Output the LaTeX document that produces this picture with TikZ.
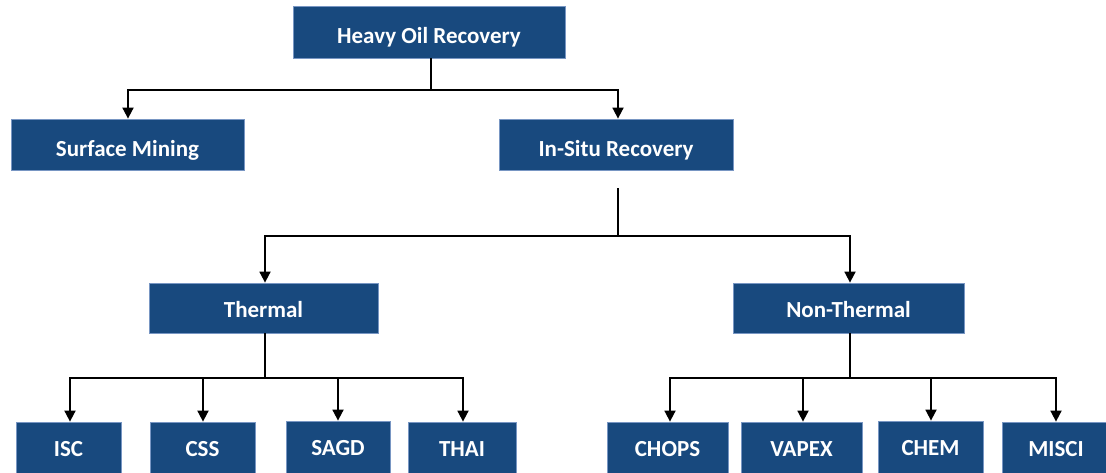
\documentclass[tikz,border=0pt]{standalone}
\usepackage{fontspec}
\setmainfont{Carlito}
\usetikzlibrary{arrows.meta}
\definecolor{boxblue}{RGB}{24,73,126}
\definecolor{boxedge}{RGB}{120,150,195}
\tikzset{
  box/.style={rectangle, fill=boxblue, draw=boxedge, line width=0.8pt, text=white,
    font=\fontsize{23}{26}\selectfont\bfseries, inner sep=0pt, anchor=center,
    text depth=0pt, text height=23.5pt},
  midbox/.style={box, text height=18.8pt},
  lowbox/.style={box, text height=17.8pt},
  conn/.style={line width=1.8pt, draw=black},
  arr/.style={conn, -{Triangle[width=11pt,length=11pt]}}
}
\begin{document}
\begin{tikzpicture}[x=1pt,y=-1pt]
\useasboundingbox (0,0) rectangle (1106,472);
% nodes
\node[box, minimum width=272pt, minimum height=52pt] (top) at (429,32) {Heavy Oil Recovery};
\node[box, minimum width=233pt, minimum height=51pt] (sm) at (127.5,144.5) {Surface Mining};
\node[box, minimum width=234pt, minimum height=51pt] (is) at (616,144.5) {In-Situ Recovery};
\node[midbox, minimum width=229pt, minimum height=50pt] (th) at (263.5,308) {Thermal};
\node[midbox, minimum width=231pt, minimum height=50pt] (nt) at (848.5,308) {Non-Thermal};
\node[lowbox, minimum width=105pt, minimum height=52pt] (isc) at (68.5,448) {ISC};
\node[lowbox, minimum width=105pt, minimum height=52pt] (css) at (202.5,448) {CSS};
\node[lowbox, minimum width=104pt, minimum height=52pt] (sagd) at (338,447) {SAGD};
\node[lowbox, minimum width=108pt, minimum height=52pt] (thai) at (462,448) {THAI};
\node[lowbox, minimum width=121pt, minimum height=52pt] (chops) at (667.5,448) {CHOPS};
\node[lowbox, minimum width=121pt, minimum height=52pt] (vapex) at (801.5,448) {VAPEX};
\node[lowbox, minimum width=105pt, minimum height=52pt] (chem) at (930.5,447) {CHEM};
\node[lowbox, minimum width=108pt, minimum height=52pt] (misci) at (1056,448) {MISCI};
% junctions
\coordinate (j1) at (431,90);
\coordinate (is0) at (618,188);
\coordinate (j2) at (618,236);
\coordinate (j3) at (265,378);
\coordinate (j4) at (850,378);
% connectors
\draw[conn] (top.south -| j1) -- (j1);
\draw[arr] (j1) -| ([xshift=0.5pt]sm.north);
\draw[arr] (j1) -| ([xshift=2pt]is.north);
\draw[conn] (is0) -- (j2);
\draw[arr] (j2) -| ([xshift=1.5pt]th.north);
\draw[arr] (j2) -| ([xshift=1.5pt]nt.north);
\draw[conn] (th.south -| j3) -- (j3);
\draw[arr] (j3) -| ([xshift=1.5pt]isc.north);
\draw[arr] (j3) -| ([xshift=0.5pt]css.north);
\draw[arr] (j3) -| (sagd.north);
\draw[arr] (j3) -| ([xshift=1pt]thai.north);
\draw[conn] (nt.south -| j4) -- (j4);
\draw[arr] (j4) -| ([xshift=2.5pt]chops.north);
\draw[arr] (j4) -| ([xshift=1.5pt]vapex.north);
\draw[arr] (j4) -| ([xshift=0.5pt]chem.north);
\draw[arr] (j4) -| (misci.north);
\end{tikzpicture}
\end{document}
